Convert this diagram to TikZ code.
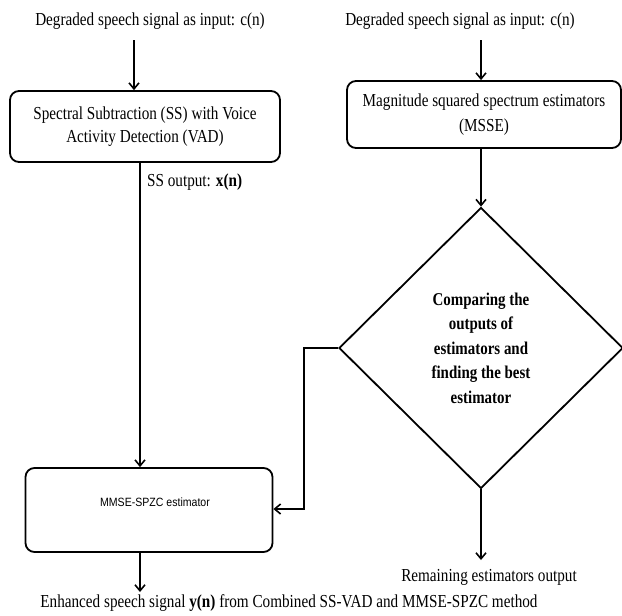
\documentclass[tikz,border=0pt]{standalone}
\usepackage{fontspec}
\setmainfont{Liberation Serif}[FakeStretch=0.83]
\newfontfamily\arialfont{Liberation Sans}[FakeStretch=0.88]
\usetikzlibrary{shapes.geometric,arrows.meta}
\tikzset{
  proc/.style={draw,line width=1.8pt,rounded corners=9pt,align=center,inner sep=0pt},
  lbl/.style={inner sep=0pt,align=center,font=\fontsize{18.3}{22}\selectfont},
  conn/.style={line width=1.8pt,-{Straight Barb[length=6pt,width=10pt,line width=1.6pt]}},
}
\begin{document}
\begin{tikzpicture}[x=1pt,y=-1pt]
\useasboundingbox (0,0) rectangle (622,616);
% top labels
\node[lbl] (t1) at (150,21) {Degraded speech signal as input: c(n)};
\node[lbl] (t2) at (460,21) {Degraded speech signal as input: c(n)};
% boxes
\node[proc,minimum width=270pt,minimum height=71pt,font=\fontsize{18.3}{23.5}\selectfont] (b1) at (145,126.5)
  {Spectral Subtraction (SS) with Voice\\Activity Detection (VAD)};
\node[proc,minimum width=274pt,minimum height=67pt,font=\fontsize{18.3}{24.5}\selectfont] (b2) at (484,114.5)
  {Magnitude squared spectrum estimators\\(MSSE)};
\node[draw,line width=1.8pt,rounded corners=9pt,minimum width=247pt,minimum height=84pt,inner sep=0pt] (b3) at (149,510) {};
\node[inner sep=0pt,font=\arialfont\fontsize{12}{14}\selectfont] (b3t) at (155,502) {MMSE-SPZC estimator};
% diamond
\node[draw,diamond,line width=1.8pt,minimum width=284pt,minimum height=281pt,inner sep=0pt,align=center,
  font=\bfseries\fontsize{18}{24.5}\selectfont] (d) at (481,348)
  {Comparing the\\outputs of\\estimators and\\finding the best\\estimator};
% output labels
\node[lbl,anchor=west] (ss) at (147,182) {SS output: \textbf{x(n)}};
\node[lbl] (rem) at (489,577) {Remaining estimators output};
\node[lbl] (enh) at (289,603) {Enhanced speech signal \textbf{y(n)} from Combined SS-VAD and MMSE-SPZC method};
% connector coordinates
\coordinate (a1) at (134,40);
\coordinate (a2) at (481,40);
\coordinate (k1) at (304,348);
\coordinate (k2) at (304,509);
\coordinate (e1) at (481,560);
\coordinate (e2) at (140,592);
% connectors
\draw[conn] (a1) -- (a1 |- b1.north);
\draw[conn] (a2) -- (a2 |- b2.north);
\draw[conn] (b1.south -| 140,0) -- (b3.north -| 140,0);
\draw[conn] (b2.south -| d.north) -- (d.north);
\draw[conn] (d.west) -- (d.west -| k1) -- (k2) -- (b3.east |- k2);
\draw[conn] (d.south) -- (e1);
\draw[conn] (b3.south -| e2) -- (e2);
\end{tikzpicture}
\end{document}
